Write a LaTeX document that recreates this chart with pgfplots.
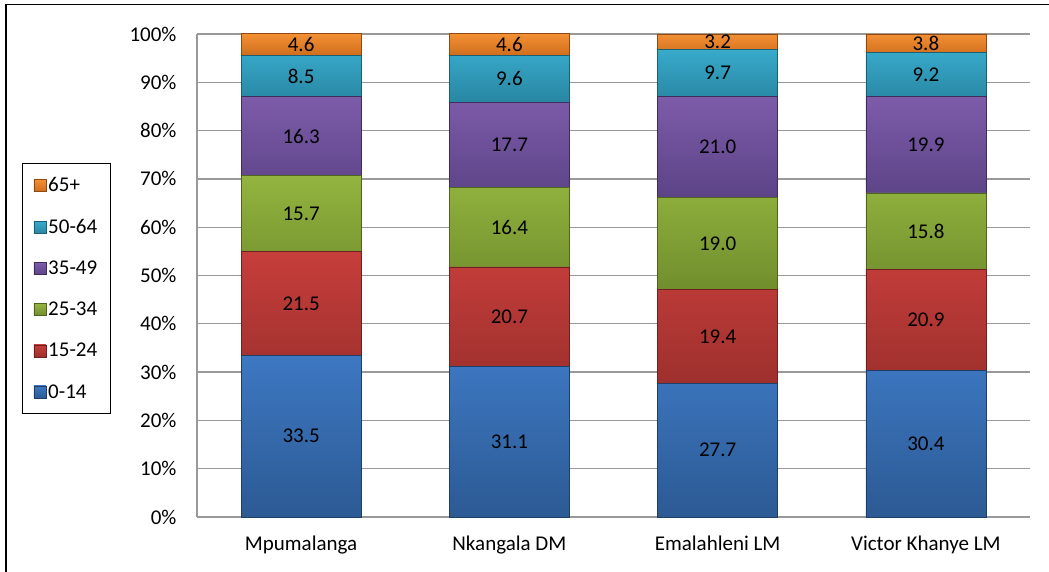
\documentclass[border=0pt]{standalone}
\usepackage{pgfplots}
\pgfplotsset{compat=1.18}
\usepackage{pgfplotstable}
\usepackage{fontspec}
\setmainfont{Carlito}

% age-group shares (%) for the four areas, one table per age group
\pgfplotstableread{
x v
0 33.5
1 31.1
2 27.7
3 30.4
}\agezero
\pgfplotstableread{
x v
0 21.5
1 20.7
2 19.4
3 20.9
}\agefifteen
\pgfplotstableread{
x v
0 15.7
1 16.4
2 19.0
3 15.8
}\agetwentyfive
\pgfplotstableread{
x v
0 16.3
1 17.7
2 21.0
3 19.9
}\agethirtyfive
\pgfplotstableread{
x v
0 8.5
1 9.6
2 9.7
3 9.2
}\agefifty
\pgfplotstableread{
x v
0 4.6
1 4.6
2 3.2
3 3.8
}\agesixtyfive

\definecolor{blueTop}{HTML}{3D78C2}
\definecolor{blueBot}{HTML}{2C5A94}
\definecolor{blueEdge}{HTML}{1F3F68}
\definecolor{redTop}{HTML}{C63E3B}
\definecolor{redBot}{HTML}{9E302D}
\definecolor{redEdge}{HTML}{6E2020}
\definecolor{greenTop}{HTML}{93B43F}
\definecolor{greenBot}{HTML}{718E2D}
\definecolor{greenEdge}{HTML}{4E6420}
\definecolor{purpleTop}{HTML}{7D5CAA}
\definecolor{purpleBot}{HTML}{5C4386}
\definecolor{purpleEdge}{HTML}{3E2D5C}
\definecolor{cyanTop}{HTML}{38AACA}
\definecolor{cyanBot}{HTML}{2886A2}
\definecolor{cyanEdge}{HTML}{1C5E72}
\definecolor{orangeTop}{HTML}{F39035}
\definecolor{orangeBot}{HTML}{D06D1B}
\definecolor{orangeEdge}{HTML}{8E4A12}

\newcommand{\chartfont}{\fontsize{21}{25}\selectfont}

\begin{document}
\begin{tikzpicture}
\useasboundingbox (0pt,0pt) rectangle (1049pt,571pt);
\begin{axis}[
  at={(197pt,54pt)}, anchor=south west,
  scale only axis, width=833pt, height=483pt,
  ybar stacked, bar width=120pt,
  xmin=-0.5, xmax=3.5, ymin=0, ymax=100,
  clip=false,
  axis lines*=left,
  axis line style={draw=gray!80, line width=1.3pt, -},
  major tick length=0pt,
  xtick={0,1,2,3},
  xticklabels={Mpumalanga, Nkangala DM, Emalahleni LM, Victor Khanye LM},
  ytick={0,10,...,100},
  yticklabel={\pgfmathparse{int(\tick)}\pgfmathresult\%},
  ymajorgrids,
  grid style={draw=gray!80, line width=1.3pt},
  tick label style={font=\chartfont},
  yticklabel style={xshift=-17pt},
  xticklabel style={yshift=-15pt},
  /pgf/number format/assume math mode=true,
  point meta=explicit,
  nodes near coords={\pgfmathprintnumber[fixed, fixed zerofill, precision=1]{\pgfplotspointmeta}},
  every node near coord/.append style={font=\chartfont, text=black, anchor=center},
  legend style={at={(-0.2101,0.7329)}, anchor=north west,
    draw=black, line width=1.3pt, font=\chartfont,
    row sep=22pt, inner xsep=11pt, inner ysep=12pt,
    cells={anchor=west}},
  reverse legend,
  legend image code/.code={\draw[#1, line width=0.6pt] (0pt,-6pt) rectangle (12pt,6pt);},
]
\addplot[top color=blueTop, bottom color=blueBot, draw=blueEdge, line width=0.6pt]
  table[x=x, y=v, meta=v] {\agezero};
\addplot[top color=redTop, bottom color=redBot, draw=redEdge, line width=0.6pt]
  table[x=x, y=v, meta=v] {\agefifteen};
\addplot[top color=greenTop, bottom color=greenBot, draw=greenEdge, line width=0.6pt]
  table[x=x, y=v, meta=v] {\agetwentyfive};
\addplot[top color=purpleTop, bottom color=purpleBot, draw=purpleEdge, line width=0.6pt]
  table[x=x, y=v, meta=v] {\agethirtyfive};
\addplot[top color=cyanTop, bottom color=cyanBot, draw=cyanEdge, line width=0.6pt]
  table[x=x, y=v, meta=v] {\agefifty};
\addplot[top color=orangeTop, bottom color=orangeBot, draw=orangeEdge, line width=0.6pt]
  table[x=x, y=v, meta=v] {\agesixtyfive};
\legend{0-14, 15-24, 25-34, 35-49, 50-64, 65+}
\end{axis}
% chart frame
\draw[line width=1.4pt, black] (6pt,-20pt) -- (6pt,566.5pt) -- (1070pt,566.5pt);
\end{tikzpicture}
\end{document}
